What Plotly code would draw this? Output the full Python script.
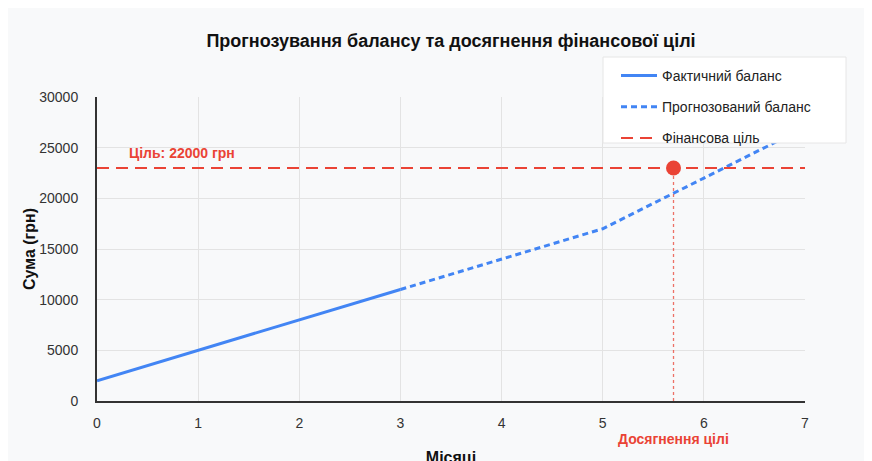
import plotly.graph_objects as go

# Data
months_actual = [0, 1, 2, 3]
balance_actual = [2000, 5000, 8000, 11000]
months_forecast = [3, 4, 5, 6, 7]
balance_forecast = [11000, 14000, 17000, 22000, 27000]
goal_months = [0, 7]
goal_value = 23000
goal_text = "Ціль: 22000 грн"
goal_reached_month = 5.7
x_ticks = [0, 1, 2, 3, 4, 5, 6, 7]
y_ticks = [0, 5000, 10000, 15000, 20000, 25000, 30000]

BLUE = "#4285F4"
RED = "#EA4335"
FONT = "Liberation Sans, Arial, sans-serif"

W, H = 864, 470
ML, MR, MT, MB = 89, 67, 89, 77
PW, PH = W - ML - MR, H - MT - MB

fig = go.Figure()
fig.add_trace(go.Scatter(
    x=months_actual, y=balance_actual, mode="lines", name="Фактичний баланс",
    line=dict(color=BLUE, width=3), legendgroup="a"))
fig.add_trace(go.Scatter(
    x=months_forecast, y=balance_forecast, mode="lines", name="Прогнозований баланс",
    line=dict(color=BLUE, width=3, dash="6px,4px"), legendgroup="b"))
fig.add_trace(go.Scatter(
    x=goal_months, y=[goal_value] * len(goal_months), mode="lines", name="Фінансова ціль",
    line=dict(color=RED, width=2, dash="12px,7px"), legendgroup="c"))
fig.add_trace(go.Scatter(
    x=[goal_reached_month, goal_reached_month], y=[0, goal_value], mode="lines",
    line=dict(color="rgba(234,67,53,0.75)", width=1.3, dash="3px,3px"), showlegend=False,
    hoverinfo="skip"))
fig.add_trace(go.Scatter(
    x=[goal_reached_month], y=[goal_value], mode="markers",
    marker=dict(color=RED, size=15), showlegend=False))

fig.add_annotation(x=0.3, y=goal_value, xref="x", yref="y", text=goal_text,
                   showarrow=False, xanchor="left", yanchor="middle", yshift=15,
                   font=dict(family=FONT, size=14, color=RED, weight="bold"))
fig.add_annotation(x=goal_reached_month, y=0, xref="x", yref="paper", text="Досягнення цілі",
                   showarrow=False, yanchor="middle", yshift=-38,
                   font=dict(family=FONT, size=14, color=RED, weight="bold"))

# legend box (white panel behind the legend entries)
box_l, box_r, box_t, box_b = 595, 838, 49, 135  # figure pixels
fig.add_shape(type="rect", xref="paper", yref="paper", layer="above",
              x0=(box_l - ML) / PW, x1=(box_r - ML) / PW,
              y0=1 + (MT - box_b) / PH, y1=1 + (MT - box_t) / PH,
              fillcolor="white", line=dict(color="#e6e6e6", width=1))

fig.update_layout(
    width=W, height=H,
    margin=dict(l=ML, r=MR, t=MT, b=MB),
    paper_bgcolor="#f8f9fa", plot_bgcolor="#f8f9fa",
    font=dict(family=FONT, size=14, color="#333"),
    title=dict(text="Прогнозування балансу та досягнення фінансової цілі",
               x=0.5, xref="paper", xanchor="center", y=1 - 33 / H, yanchor="middle",
               font=dict(family=FONT, size=18, color="#111", weight="bold")),
    legend=dict(x=(box_l - ML) / PW, y=1 + (MT - box_t - 3) / PH, xanchor="left", yanchor="top",
                bgcolor="rgba(0,0,0,0)", borderwidth=0,
                traceorder="grouped", tracegroupgap=10,
                indentation=13, itemwidth=36,
                font=dict(family=FONT, size=14, color="#222")),
    showlegend=True,
)
fig.update_xaxes(
    range=[0, 7], tickvals=x_ticks, showgrid=True, gridcolor="#e3e3e3", gridwidth=1,
    showline=True, linecolor="#333", linewidth=2, zeroline=False,
    ticklabelstandoff=8, tickfont=dict(size=14, color="#333"),
    title=dict(text="Місяці", standoff=22, font=dict(family=FONT, size=16, color="#111", weight="bold")),
)
fig.update_yaxes(
    range=[0, 30000], tickvals=y_ticks, tickformat="d", showgrid=True, gridcolor="#e3e3e3", gridwidth=1,
    showline=True, linecolor="#333", linewidth=2, zeroline=False,
    ticklabelstandoff=14, tickfont=dict(size=14, color="#333"),
    title=dict(text="Сума (грн)", standoff=0, font=dict(family=FONT, size=16, color="#111", weight="bold")),
)

fig.write_html("out.html")
